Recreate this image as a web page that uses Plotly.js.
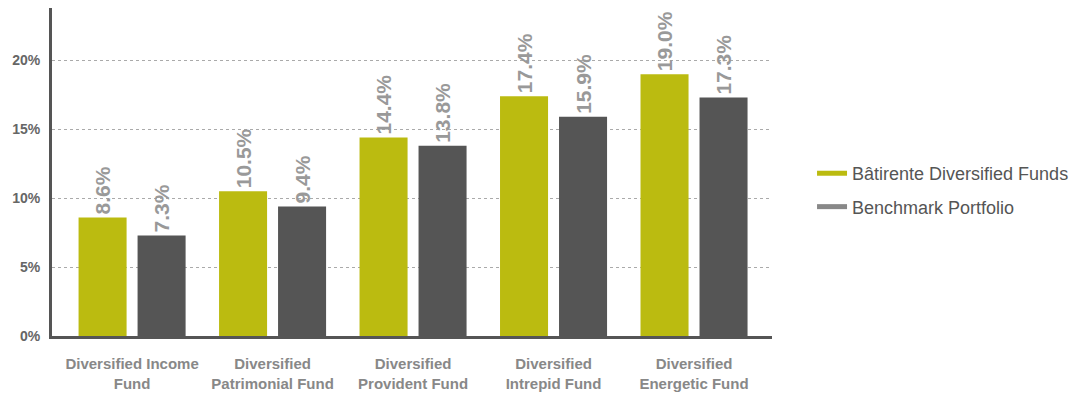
<!DOCTYPE html>
<html><head><meta charset="utf-8">
<script src="https://cdn.plot.ly/plotly-3.0.1.min.js"></script>
<style>html,body{margin:0;padding:0;background:#fff}#c{width:1088px;height:401px}</style>
</head><body><div id="c"></div>
<script>
const categories = ["Diversified Income<br>Fund","Diversified<br>Patrimonial Fund","Diversified<br>Provident Fund","Diversified<br>Intrepid Fund","Diversified<br>Energetic Fund"];
const batirente = [8.6, 10.5, 14.4, 17.4, 19.0];
const benchmark = [7.3, 9.4, 13.8, 15.9, 17.3];
const seriesNames = ["Bâtirente Diversified Funds", "Benchmark Portfolio"];
const yTicks = [0, 5, 10, 15, 20];

const F = '"Liberation Sans", Arial, sans-serif';
const labelFont = {family: F, size: 21, color: '#999999', weight: 700};
const idx = categories.map((_, i) => i);

const traces = [
  {type:'bar', x: idx, y: batirente, marker:{color:'#bbbb10'}, showlegend:false,
   text: batirente.map(v => v.toFixed(1) + '%'), textposition:'outside', textangle:-90,
   constraintext:'none', textfont: labelFont, cliponaxis:false, hoverinfo:'skip'},
  {type:'bar', x: idx, y: benchmark, marker:{color:'#555555'}, showlegend:false,
   text: benchmark.map(v => v.toFixed(1) + '%'), textposition:'outside', textangle:-90,
   constraintext:'none', textfont: labelFont, cliponaxis:false, hoverinfo:'skip'},
  {type:'scatter', mode:'lines', x:[null], y:[null], name: seriesNames[0], legendgroup:'a',
   line:{color:'#bbbb10', width:5}},
  {type:'scatter', mode:'lines', x:[null], y:[null], name: seriesNames[1], legendgroup:'b',
   line:{color:'#888888', width:5}}
];

const layout = {
  width:1088, height:401,
  margin:{l:52, r:316, t:8, b:65},
  paper_bgcolor:'#fff', plot_bgcolor:'#fff',
  barmode:'group', bargap:0.16, bargroupgap:0.186,
  showlegend:true,
  legend:{x:1.0556, xanchor:'left', y:0.445, yanchor:'middle', tracegroupgap:7,
    font:{family:F, size:18, color:'#555555'}, bgcolor:'rgba(0,0,0,0)', borderwidth:0},
  xaxis:{range:[-0.57, 4.555], tickmode:'array', tickvals: idx, ticktext: categories,
    showgrid:false, zeroline:false, showline:true, linecolor:'#555555', linewidth:3,
    ticks:'', ticklabelstandoff:12,
    tickfont:{family:F, size:15, color:'#888888', weight:700}, fixedrange:true},
  yaxis:{range:[0, 23.8], tickmode:'array', tickvals: yTicks, ticktext: yTicks.map(v => v + '%'),
    showgrid:true, gridcolor:'#aaaaaa', griddash:'dot', gridwidth:1,
    zeroline:false, showline:true, linecolor:'#555555', linewidth:3,
    ticks:'', ticklen:0, ticklabelstandoff:6,
    tickfont:{family:F, size:14, color:'#666666', weight:700}, fixedrange:true},
  font:{family:F}
};
Plotly.newPlot('c', traces, layout, {displayModeBar:false, staticPlot:true});
</script></body></html>
